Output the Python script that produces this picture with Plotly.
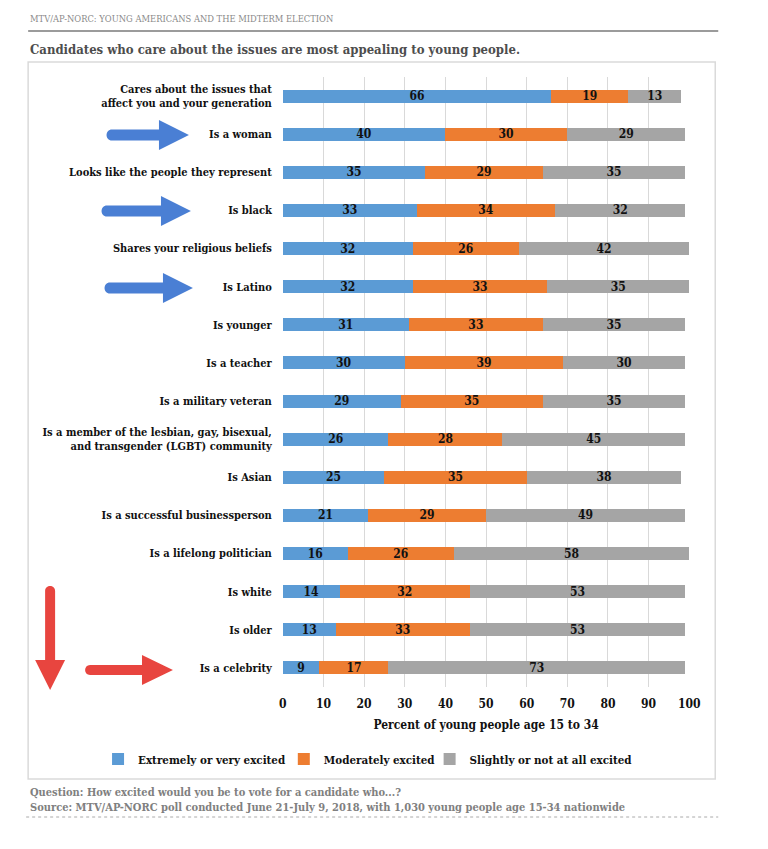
import plotly.graph_objects as go

categories = [
    "Cares about the issues that<br>affect you and your generation",
    "Is a woman",
    "Looks like the people they represent",
    "Is black",
    "Shares your religious beliefs",
    "Is Latino",
    "Is younger",
    "Is a teacher",
    "Is a military veteran",
    "Is a member of the lesbian, gay, bisexual,<br>and transgender (LGBT) community",
    "Is Asian",
    "Is a successful businessperson",
    "Is a lifelong politician",
    "Is white",
    "Is older",
    "Is a celebrity",
]
extremely = [66, 40, 35, 33, 32, 32, 31, 30, 29, 26, 25, 21, 16, 14, 13, 9]
moderately = [19, 30, 29, 34, 26, 33, 33, 39, 35, 28, 35, 29, 26, 32, 33, 17]
slightly = [13, 29, 35, 32, 42, 35, 35, 30, 35, 45, 38, 49, 58, 53, 53, 73]
series_names = ["Extremely or very excited", "Moderately excited", "Slightly or not at all excited"]
series_colors = ["#5B9BD5", "#ED7D31", "#A5A5A5"]
x_ticks = list(range(0, 101, 10))

# page has an 8px body margin on every side; keep the figure inside the window
OFF = 8
W, H = 768 - 2 * OFF, 849 - 2 * OFF
FONT = "DejaVu Serif Condensed, DejaVu Serif, serif"
XS, XO = 0.98, 3.0  # observed horizontal mapping page -> picture


def X(px):
    return ((px - XO) / XS - OFF) / W


def Y(py):
    return 1 - (py - OFF) / H


fig = go.Figure()
legend_ids = ["legend", "legend2", "legend3"]
for name, vals, col, lid in zip(series_names, [extremely, moderately, slightly], series_colors, legend_ids):
    fig.add_trace(go.Bar(
        y=categories, x=vals, name=name, orientation="h", legend=lid,
        marker=dict(color=col, line=dict(width=0)),
        text=vals, texttemplate="%{x}", textposition="inside",
        insidetextanchor="middle", textangle=0, constraintext="none",
        insidetextfont=dict(family=FONT, size=12, color="#111111", weight="bold"),
        hoverinfo="skip",
    ))


def right_arrow(x0, x1, xh, y, w, h):
    p = (f"M {X(x0)},{Y(y - w/2)} L {X(xh)},{Y(y - w/2)} L {X(xh)},{Y(y - h/2)} "
         f"L {X(x1)},{Y(y)} L {X(xh)},{Y(y + h/2)} L {X(xh)},{Y(y + w/2)} L {X(x0)},{Y(y + w/2)} "
         f"C {X(x0 - w*0.66)},{Y(y + w/2)} {X(x0 - w*0.66)},{Y(y - w/2)} {X(x0)},{Y(y - w/2)} Z")
    return p


def down_arrow(x, y0, y1, yh, w, h):
    p = (f"M {X(x - w/2)},{Y(y0)} L {X(x - w/2)},{Y(yh)} L {X(x - h/2)},{Y(yh)} "
         f"L {X(x)},{Y(y1)} L {X(x + h/2)},{Y(yh)} L {X(x + w/2)},{Y(yh)} L {X(x + w/2)},{Y(y0)} "
         f"C {X(x + w/2)},{Y(y0 - w*0.66)} {X(x - w/2)},{Y(y0 - w*0.66)} {X(x - w/2)},{Y(y0)} Z")
    return p


BLUE = "#4A7FD4"
RED = "#E8453F"
shapes = [
    dict(type="rect", xref="paper", yref="paper", x0=X(27), x1=X(715), y0=Y(779), y1=Y(62),
         line=dict(color="#DADADA", width=1.5), layer="below"),
    dict(type="line", xref="paper", yref="paper", x0=X(27), x1=X(718), y0=Y(31), y1=Y(31),
         line=dict(color="#7A7A7A", width=1.5)),
    dict(type="line", xref="paper", yref="paper", x0=X(25), x1=X(718), y0=Y(817), y1=Y(817),
         line=dict(color="#AAAAAA", width=1, dash="dot")),
]
for x0, xh, x1, yy in [(111, 158, 188, 135), (106, 160, 190, 211), (109, 162, 192, 288)]:
    shapes.append(dict(type="path", xref="paper", yref="paper", path=right_arrow(x0, x1, xh, yy, 11, 30),
                       fillcolor=BLUE, line=dict(width=0)))
shapes.append(dict(type="path", xref="paper", yref="paper", path=right_arrow(89, 172, 141, 670, 10, 30),
                   fillcolor=RED, line=dict(width=0)))
shapes.append(dict(type="path", xref="paper", yref="paper", path=down_arrow(49, 591, 690, 660, 10, 30),
                   fillcolor=RED, line=dict(width=0)))

annotations = [
    dict(text="MTV/AP-NORC: YOUNG AMERICANS AND THE MIDTERM ELECTION", x=X(27), y=Y(18),
         xref="paper", yref="paper", xanchor="left", yanchor="middle", showarrow=False,
         font=dict(family=FONT, size=9.3, color="#8A8A8A")),
    dict(text="Candidates who care about the issues are most appealing to young people.", x=X(27), y=Y(49),
         xref="paper", yref="paper", xanchor="left", yanchor="middle", showarrow=False,
         font=dict(family=FONT, size=13, color="#4D4D4D", weight="bold")),
    dict(text="Question: How excited would you be to vote for a candidate who...?", x=X(27), y=Y(792),
         xref="paper", yref="paper", xanchor="left", yanchor="middle", showarrow=False,
         font=dict(family=FONT, size=11, color="#808080", weight="bold")),
    dict(text="Source: MTV/AP-NORC poll conducted June 21-July 9, 2018, with 1,030 young people age 15-34 nationwide",
         x=X(27), y=Y(807), xref="paper", yref="paper", xanchor="left", yanchor="middle", showarrow=False,
         font=dict(family=FONT, size=11, color="#808080", weight="bold")),
]

legend_font = dict(family=FONT, size=11.5, color="#111111", weight="bold")
legend_starts = [97, 283, 429]
legend_layouts = {}
for lid, lx in zip(legend_ids, legend_starts):
    legend_layouts[lid] = dict(orientation="h", x=X(lx), y=Y(759), xanchor="left", yanchor="middle",
                               font=legend_font, bgcolor="rgba(0,0,0,0)")

fig.update_layout(
    width=W, height=H, autosize=False,
    margin=dict(l=0, r=0, t=0, b=0),
    paper_bgcolor="white", plot_bgcolor="white",
    barmode="stack", bargap=0.66,
    font=dict(family=FONT, size=12, color="#111111"),
    showlegend=True,
    **legend_layouts,
    xaxis=dict(domain=[X(282), X(689)], range=[0, 100], tickvals=x_ticks,
               showgrid=True, gridcolor="#D9D9D9", gridwidth=1, zeroline=False,
               showline=False, ticks="", ticklabelstandoff=8,
               tickfont=dict(family=FONT, size=12, color="#111111", weight="bold"),
               title=dict(text="Percent of young people age 15 to 34", standoff=10,
                          font=dict(family=FONT, size=12, color="#111111", weight="bold"))),
    yaxis=dict(domain=[Y(687), Y(77)], range=[15.5, -0.5], type="category",
               showgrid=False, zeroline=False, showline=False, ticks="",
               ticklabelstandoff=10,
               tickfont=dict(family=FONT, size=11, color="#111111", weight="bold")),
    shapes=shapes,
    annotations=annotations,
)

fig.write_html("out.html")
